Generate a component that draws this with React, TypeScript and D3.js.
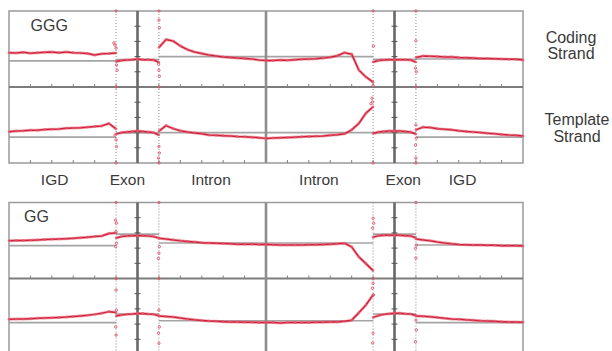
import React, { useRef, useEffect } from 'react';
import * as d3 from 'd3';

// labels under the top block, and their x in tick units
const regionLabels = ['IGD', 'Exon', 'Intron', 'Intron', 'Exon', 'IGD'];
const regionLabelPos = [2.13, 5.53, 9.43, 14.47, 18.41, 21.18];

// x spans (tick units) of the 8 data segments:
// IGD up | exon start || exon end | intron start || intron end | exon start || exon end | IGD down
const segmentSpans = [[0, 5], [5, 6], [6, 7], [7, 12], [12, 17], [17, 18], [18, 19], [19, 24]];
// spans of the gray expected levels: IGD, exon, intron, exon, IGD
const baselineSpans = [[0, 5], [5, 7], [7, 17], [17, 19], [19, 24]];
const junctions = [5, 7, 17, 19];
const dividers = [6, 12, 18];
const yTicks = [0.5, 1, 1.5, 2];

// GGG, coding strand
const gggCoding = [
  [1.13, 1.12, 1.14, 1.11, 1.13, 1.14, 1.15, 1.13, 1.15, 1.13, 1.12, 1.10, 1.05, 1.09, 1.10, 1.12],
  [0.84, 0.87, 0.89, 0.90, 0.92],
  [0.92, 0.90, 0.90, 0.89, 0.81],
  [1.30, 1.56, 1.51, 1.35, 1.23, 1.15, 1.10, 1.05, 1.02, 0.99, 0.97, 0.95, 0.94, 0.92, 0.89, 0.87],
  [0.87, 0.87, 0.89, 0.88, 0.90, 0.91, 0.92, 0.93, 0.95, 0.98, 1.03, 1.13, 1.08, 0.56, 0.33, 0.16],
  [0.82, 0.87, 0.89, 0.90, 0.90],
  [0.90, 0.90, 0.90, 0.89, 0.82],
  [0.97, 1.02, 1.01, 1.00, 0.99, 0.99, 0.97, 0.96, 0.95, 0.94, 0.94, 0.93, 0.92, 0.91, 0.91, 0.89],
];
const gggCodingBase = [0.86, 0.90, 1.00, 0.91, 0.92];
const gggCodingOut = [
  [4.9, 1.45], [4.95, 1.38], [5.0, 1.28], [5.02, 0.72], [5.05, 0.55], [5.0, 2.5], [5.0, 0],
  [7.0, 2.5], [7.0, 2.2], [7.02, 1.95], [6.98, 0.75], [7.0, 0.55], [7.02, 0.35], [7.0, 0],
  [17.0, 2.5], [17.02, 1.35], [17.0, 0.05],
  [19.0, 2.5], [19.0, 1.52], [18.98, 0.62], [19.02, 0.5], [19.0, 0],
];

// GGG, template strand
const gggTemplate = [
  [1.03, 1.05, 1.06, 1.08, 1.08, 1.10, 1.11, 1.12, 1.14, 1.15, 1.16, 1.18, 1.20, 1.22, 1.30, 1.12],
  [0.95, 1.00, 1.02, 1.04, 1.05],
  [1.05, 1.04, 1.02, 1.00, 0.92],
  [1.05, 1.23, 1.13, 1.06, 1.02, 0.99, 0.96, 0.92, 0.91, 0.90, 0.89, 0.87, 0.86, 0.85, 0.83, 0.81],
  [0.81, 0.82, 0.83, 0.84, 0.85, 0.86, 0.87, 0.88, 0.89, 0.91, 0.93, 0.96, 1.09, 1.30, 1.64, 1.85],
  [0.97, 1.02, 1.04, 1.05, 1.05],
  [1.05, 1.05, 1.04, 1.02, 0.95],
  [1.09, 1.18, 1.17, 1.13, 1.11, 1.09, 1.06, 1.04, 1.02, 1.00, 0.98, 0.96, 0.94, 0.92, 0.91, 0.89],
];
const gggTemplateBase = [0.85, 0.99, 1.00, 0.99, 0.85];
const gggTemplateOut = [
  [4.95, 0.92], [5.0, 0.76], [5.02, 0.54], [5.0, 0],
  [7.0, 0.54], [7.02, 0.33], [6.98, 0.16], [7.0, 0],
  [16.95, 2.13], [16.9, 1.95], [16.98, 2.01], [17.0, 0],
  [19.0, 1.25], [19.02, 0.82], [18.98, 0.59], [19.0, 0.16], [19.0, 0],
];

// GG, coding strand
const ggCoding = [
  [1.24, 1.25, 1.25, 1.26, 1.27, 1.28, 1.29, 1.30, 1.31, 1.32, 1.34, 1.36, 1.38, 1.40, 1.48, 1.50],
  [1.33, 1.38, 1.40, 1.41, 1.41],
  [1.41, 1.41, 1.40, 1.38, 1.33],
  [1.32, 1.30, 1.27, 1.24, 1.22, 1.20, 1.18, 1.17, 1.16, 1.15, 1.14, 1.13, 1.13, 1.13, 1.12, 1.12],
  [1.12, 1.11, 1.10, 1.10, 1.10, 1.10, 1.11, 1.11, 1.12, 1.13, 1.14, 1.16, 1.04, 0.71, 0.49, 0.26],
  [1.36, 1.41, 1.42, 1.42, 1.42],
  [1.42, 1.42, 1.41, 1.40, 1.34],
  [1.30, 1.27, 1.24, 1.20, 1.17, 1.14, 1.12, 1.11, 1.10, 1.10, 1.09, 1.09, 1.08, 1.08, 1.08, 1.07],
];
const ggCodingBase = [1.08, 1.46, 1.17, 1.46, 1.10];
const ggCodingOut = [
  [5.0, 2.5], [4.97, 1.92], [5.02, 1.82], [5.0, 1.54], [5.02, 1.16], [4.98, 1.05], [5.0, 0],
  [7.0, 2.5], [7.02, 1.05], [7.0, 0.83], [6.98, 0.66], [7.0, 0],
  [17.0, 1.98], [17.03, 1.82], [16.98, 1.66], [17.0, 0],
  [19.0, 2.5], [19.02, 1.10], [18.98, 0.99], [19.0, 0.67],
];

// GG, template strand
const ggTemplate = [
  [1.16, 1.17, 1.17, 1.18, 1.19, 1.20, 1.21, 1.22, 1.23, 1.25, 1.27, 1.29, 1.32, 1.36, 1.41, 1.38],
  [1.27, 1.30, 1.32, 1.33, 1.35],
  [1.35, 1.35, 1.33, 1.32, 1.27],
  [1.27, 1.25, 1.23, 1.20, 1.17, 1.14, 1.12, 1.10, 1.09, 1.08, 1.07, 1.07, 1.06, 1.06, 1.05, 1.05],
  [1.05, 1.05, 1.04, 1.05, 1.05, 1.05, 1.05, 1.06, 1.06, 1.07, 1.07, 1.09, 1.13, 1.37, 1.63, 1.96],
  [1.22, 1.28, 1.32, 1.34, 1.36],
  [1.36, 1.36, 1.34, 1.33, 1.28],
  [1.27, 1.26, 1.24, 1.22, 1.19, 1.17, 1.16, 1.14, 1.13, 1.11, 1.10, 1.09, 1.08, 1.07, 1.07, 1.06],
];
const ggTemplateBase = [1.05, 1.33, 1.11, 1.33, 1.05];
const ggTemplateOut = [
  [5.0, 2.12], [5.02, 1.46], [4.98, 0.91], [5.0, 0.64],
  [7.0, 1.46], [7.02, 0.91], [6.98, 0.70], [7.0, 0.37],
  [17.0, 2.34], [16.97, 2.18], [17.02, 1.96], [17.0, 0.70], [16.98, 0.38],
  [19.0, 1.13], [19.02, 0.81], [18.98, 0.42],
];

const rows = [
  { data: gggCoding, base: gggCodingBase, out: gggCodingOut, top: 11 },
  { data: gggTemplate, base: gggTemplateBase, out: gggTemplateOut, top: 87 },
  { data: ggCoding, base: ggCodingBase, out: ggCodingOut, top: 202.5 },
  { data: ggTemplate, base: ggTemplateBase, out: ggTemplateOut, top: 278.5 },
];
const blocks = [{ top: 11, bottom: 163, title: 'GGG', tx: 30.5, ty: 30.5 }, { top: 202.5, bottom: 354.5, title: 'GG', tx: 24, ty: 221.7 }];

const App = () => {
  const ref = useRef(null);

  useEffect(() => {
    const svg = d3.select(ref.current);
    svg.selectAll('*').remove();

    const x = d3.scaleLinear().domain([0, 24]).range([9, 523]);
    const rowH = 76;
    const red = '#d3213c';
    const font = '"Liberation Sans", Arial, sans-serif';
    const ink = '#3a3a3a';

    // expected-level gray lines
    rows.forEach(row => {
      const y = d3.scaleLinear().domain([0, 2.5]).range([row.top + rowH, row.top]);
      svg.append('g').selectAll('line')
        .data(baselineSpans)
        .enter()
        .append('line')
        .attr('x1', d => x(d[0]))
        .attr('x2', d => x(d[1]))
        .attr('y1', (d, i) => y(row.base[i]))
        .attr('y2', (d, i) => y(row.base[i]))
        .attr('stroke', '#a4a4a4')
        .attr('stroke-width', 1.6);
    });

    // frames, junction dotted lines, dividers
    blocks.forEach(b => {
      const g = svg.append('g');
      g.selectAll('.junc')
        .data(junctions)
        .enter()
        .append('line')
        .attr('x1', d => x(d)).attr('x2', d => x(d))
        .attr('y1', b.top).attr('y2', b.bottom)
        .attr('stroke', '#8a8a8a')
        .attr('stroke-width', 1)
        .attr('stroke-dasharray', '1,2');
      g.append('rect')
        .attr('x', x(0)).attr('y', b.top)
        .attr('width', x(24) - x(0)).attr('height', b.bottom - b.top)
        .attr('fill', 'none')
        .attr('stroke', '#9a9a9a')
        .attr('stroke-width', 1.5);
      g.append('line')
        .attr('x1', x(0)).attr('x2', x(24))
        .attr('y1', (b.top + b.bottom) / 2).attr('y2', (b.top + b.bottom) / 2)
        .attr('stroke', '#7c7c7c')
        .attr('stroke-width', 2);
      g.selectAll('.div')
        .data(dividers)
        .enter()
        .append('line')
        .attr('x1', d => x(d)).attr('x2', d => x(d))
        .attr('y1', b.top).attr('y2', b.bottom)
        .attr('stroke', d => (d === 12 ? '#8e8e8e' : '#686868'))
        .attr('stroke-width', 2.6);
      g.append('text')
        .attr('x', b.tx).attr('y', b.ty)
        .attr('font-family', font).attr('font-size', 16)
        .attr('fill', ink)
        .text(b.title);
    });

    // ticks
    rows.forEach(row => {
      const y = d3.scaleLinear().domain([0, 2.5]).range([row.top + rowH, row.top]);
      const g = svg.append('g');
      const xt = d3.range(1, 24).filter(t => !dividers.includes(t));
      g.selectAll('.xt')
        .data(xt)
        .enter()
        .append('line')
        .attr('x1', d => x(d)).attr('x2', d => x(d))
        .attr('y1', y(0) - 3).attr('y2', y(0))
        .attr('stroke', '#808080')
        .attr('stroke-width', 1);
      [6, 18].forEach(dv => {
        g.selectAll('.yt' + dv)
          .data(yTicks)
          .enter()
          .append('line')
          .attr('x1', x(dv) - 3).attr('x2', x(dv) + 3)
          .attr('y1', d => y(d)).attr('y2', d => y(d))
          .attr('stroke', '#555')
          .attr('stroke-width', 1);
      });
    });

    // data traces
    rows.forEach(row => {
      const y = d3.scaleLinear().domain([0, 2.5]).range([row.top + rowH, row.top]);
      const g = svg.append('g');
      row.data.forEach((vals, si) => {
        const [a, b] = segmentSpans[si];
        const pts = vals.map((v, k) => [a + ((b - a) * k) / (vals.length - 1), v]);
        const line = d3.line().x(d => x(d[0])).y(d => y(d[1]));
        g.append('path')
          .attr('d', line(pts))
          .attr('fill', 'none')
          .attr('stroke', '#e5707f')
          .attr('stroke-width', 3)
          .attr('stroke-opacity', 0.55)
          .attr('stroke-linejoin', 'round');
        g.append('path')
          .attr('d', line(pts))
          .attr('fill', 'none')
          .attr('stroke', red)
          .attr('stroke-width', 1.5)
          .attr('stroke-linejoin', 'round');
        g.selectAll('.p' + si)
          .data(pts)
          .enter()
          .append('circle')
          .attr('cx', d => x(d[0]))
          .attr('cy', d => y(d[1]))
          .attr('r', 1.3)
          .attr('fill', '#e0566a')
          .attr('opacity', 0.8);
      });
      g.selectAll('.out')
        .data(row.out)
        .enter()
        .append('circle')
        .attr('cx', d => x(d[0]))
        .attr('cy', d => y(d[1]))
        .attr('r', 1.2)
        .attr('fill', 'none')
        .attr('stroke', '#e0566a')
        .attr('stroke-width', 0.9);
    });

    // region labels and strand labels
    svg.append('g').selectAll('text')
      .data(regionLabels)
      .enter()
      .append('text')
      .attr('x', (d, i) => x(regionLabelPos[i]))
      .attr('y', 184.5)
      .attr('text-anchor', 'middle')
      .attr('font-family', font)
      .attr('font-size', 15.5)
      .attr('fill', ink)
      .text(d => d);

    const side = [['Coding', 571, 42.5], ['Strand', 571, 58.5], ['Template', 577, 125], ['Strand', 577, 141.5]];
    svg.append('g').selectAll('text')
      .data(side)
      .enter()
      .append('text')
      .attr('x', d => d[1])
      .attr('y', d => d[2])
      .attr('text-anchor', 'middle')
      .attr('font-family', font)
      .attr('font-size', 16)
      .attr('fill', ink)
      .text(d => d[0]);
  }, []);

  return (
    <svg
      ref={ref}
      width="612"
      height="351"
      style={{ position: 'absolute', left: 0, top: 0, background: '#fff' }}
    ></svg>
  );
};

export default App;
